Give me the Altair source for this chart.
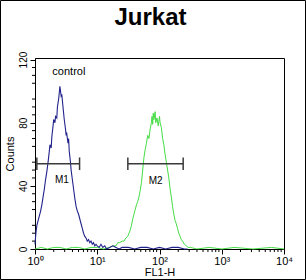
import altair as alt
import pandas as pd

# ---- data (x as log10 of FL1-H, y as counts) ----
blue_log = [0.00, 0.01, 0.02, 0.03, 0.05, 0.07, 0.09, 0.11, 0.13, 0.15, 0.17, 0.19, 0.21, 0.23,
            0.24, 0.26, 0.27, 0.29, 0.30, 0.32, 0.33, 0.35, 0.36, 0.38, 0.39, 0.40, 0.41, 0.42,
            0.43, 0.45, 0.46, 0.47, 0.49, 0.50, 0.51, 0.53, 0.54, 0.55, 0.57, 0.58, 0.60, 0.62,
            0.64, 0.66, 0.68, 0.70, 0.72, 0.74, 0.76, 0.78, 0.80, 0.82, 0.84, 0.86, 0.88, 0.90,
            0.92, 0.94, 0.96, 0.98, 1.00, 1.03, 1.06, 1.09, 1.12, 1.15, 1.20, 1.25, 1.30, 1.35,
            1.40, 1.50, 1.60, 1.70, 1.80, 1.90, 2.00, 2.10, 2.20, 2.30, 2.40, 2.45]
blue_counts = [3, 8, 12, 15, 18, 21, 24, 28, 33, 38, 44, 49, 55, 62,
               66, 64, 71, 78, 82, 80, 84, 83, 90, 95, 99, 103, 100, 97,
               98, 90, 86, 82, 76, 72, 73, 67, 70, 62, 55, 50, 44, 38,
               32, 27, 24, 22, 19, 16, 13, 10, 8, 7, 5, 6, 4, 5,
               3, 4, 2, 3, 2, 1, 3, 1, 2, 0, 1, 2, 1, 0,
               1, 1, 0, 1, 1, 0, 1, 0, 1, 1, 0, 0]

green_log = [0.00, 0.10, 0.20, 0.30, 0.40, 0.50, 0.60, 0.70, 0.80, 0.90, 1.00, 1.10, 1.20, 1.25,
             1.30, 1.33, 1.36, 1.40, 1.43, 1.46, 1.49, 1.51, 1.53, 1.55, 1.57, 1.59, 1.61, 1.63,
             1.65, 1.67, 1.69, 1.71, 1.73, 1.75, 1.77, 1.79, 1.81, 1.83, 1.85, 1.87, 1.88, 1.89,
             1.90, 1.91, 1.93, 1.94, 1.96, 1.98, 2.00, 2.01, 2.03, 2.05, 2.07, 2.09, 2.11, 2.13,
             2.15, 2.17, 2.19, 2.21, 2.23, 2.25, 2.27, 2.29, 2.31, 2.33, 2.35, 2.37, 2.40, 2.43,
             2.46, 2.50, 2.60, 2.80, 3.00, 3.20, 3.50, 3.80, 4.00]
green_counts = [0, 1, 0, 1, 1, 0, 1, 1, 0, 1, 1, 0, 1, 2,
                2, 4, 4, 5, 5, 7, 8, 10, 12, 15, 19, 22, 25, 28,
                30, 33, 37, 42, 50, 58, 63, 67, 72, 70, 76, 80, 84, 79,
                86, 82, 87, 80, 83, 78, 84, 80, 77, 70, 66, 60, 55, 50,
                45, 38, 33, 27, 22, 18, 16, 13, 10, 8, 6, 5, 3, 2,
                1, 1, 0, 1, 0, 1, 0, 1, 0]

x_major = [1, 10, 100, 1000, 10000]
x_major_labels = ["10\u2070", "10\u00b9", "10\u00b2", "10\u00b3", "10\u2074"]
y_major = [0, 20, 40, 60, 80, 100, 120]

chart_title = ["Jurkat"]

marker_names = ["M1", "M2"]
marker_start = [1.07, 31.0]
marker_end = [5.2, 240.0]
marker_level = [54, 54]
marker_label_x = [2.7, 87.0]
marker_label_y = [44, 43]

annot_text = ["control"]
annot_x = [1.9]
annot_y = [112]

BLUE = "#22228c"
GREEN = "#44dd44"
GRAY = "#3a3a3a"
FONT = "Liberation Sans"
W, H = 249, 191

hist = pd.DataFrame(
    [{"x": 10 ** l, "count": c, "series": "control"} for l, c in zip(blue_log, blue_counts)]
    + [{"x": 10 ** l, "count": c, "series": "sample"} for l, c in zip(green_log, green_counts)]
)
markers = pd.DataFrame({"name": marker_names, "x1": marker_start, "x2": marker_end,
                        "y": marker_level, "lx": marker_label_x, "ly": marker_label_y})
caps = pd.DataFrame({
    "x": marker_start + marker_end,
    "ylo": [v - 4 for v in marker_level] * 2,
    "yhi": [v + 4 for v in marker_level] * 2,
})
annots = pd.DataFrame({"text": annot_text, "x": annot_x, "y": annot_y})

x_minor = [k * 10 ** d for d in range(4) for k in range(2, 10)]
y_minor = [v for v in range(0, 121, 5) if v % 20 != 0]

label_expr = " : ".join(
    f"datum.value == {v} ? '{s}'" for v, s in zip(x_major, x_major_labels)
) + " : ''"

xscale = alt.Scale(type="log", domain=[1, 10000], nice=False)
yscale = alt.Scale(domain=[0, 121], nice=False, zero=True)

xaxis = alt.Axis(values=x_major, labelExpr=label_expr, title="FL1-H", grid=False,
                 tickSize=5, tickColor="black", domainColor="black", labelFont=FONT,
                 labelFontSize=11, labelColor="black", labelPadding=1, titleFont=FONT,
                 titleFontSize=11, titleFontWeight="normal", titleColor="black",
                 titlePadding=0, labelFlush=False)
yaxis = alt.Axis(values=y_major, title="Counts", grid=False, tickSize=5, tickColor="black",
                 domainColor="black", labelFont=FONT, labelFontSize=10, labelColor="black",
                 labelAngle=270, labelAlign="center", labelBaseline="bottom", labelPadding=2,
                 titleFont=FONT, titleFontSize=11, titleFontWeight="normal",
                 titleColor="black", titlePadding=3, labelFlush=False)

base_hist = alt.Chart(hist)
green = base_hist.transform_filter(alt.datum.series == "sample").mark_line(
    color=GREEN, strokeWidth=1).encode(
    x=alt.X("x:Q", scale=xscale, axis=xaxis),
    y=alt.Y("count:Q", scale=yscale, axis=yaxis),
)
blue = base_hist.transform_filter(alt.datum.series == "control").mark_line(
    color=BLUE, strokeWidth=1.1).encode(
    x=alt.X("x:Q", scale=xscale),
    y=alt.Y("count:Q", scale=yscale),
)
bars = alt.Chart(markers).mark_rule(color=GRAY, strokeWidth=1.5).encode(
    x=alt.X("x1:Q", scale=xscale), x2="x2:Q", y=alt.Y("y:Q", scale=yscale))
cap_rules = alt.Chart(caps).mark_rule(color=GRAY, strokeWidth=1.5).encode(
    x=alt.X("x:Q", scale=xscale), y=alt.Y("ylo:Q", scale=yscale), y2="yhi:Q")
mlabels = alt.Chart(markers).mark_text(font=FONT, fontSize=10, color="black").encode(
    x=alt.X("lx:Q", scale=xscale), y=alt.Y("ly:Q", scale=yscale), text="name:N")
ctrl = alt.Chart(annots).mark_text(font=FONT, fontSize=11, color="black", align="left").encode(
    x=alt.X("x:Q", scale=xscale), y=alt.Y("y:Q", scale=yscale), text="text:N")

xminor = alt.Chart(pd.DataFrame({"v": x_minor})).mark_rule(color="black", strokeWidth=1).encode(
    x=alt.X("v:Q", scale=xscale), y=alt.value(H), y2=alt.value(H + 3))
yminor = alt.Chart(pd.DataFrame({"v": y_minor})).mark_rule(color="black", strokeWidth=1).encode(
    y=alt.Y("v:Q", scale=yscale), x=alt.value(0), x2=alt.value(-3))
border = alt.Chart(pd.DataFrame({"a": [0]})).mark_rect(
    fill=None, stroke="black", strokeWidth=1).encode(
    x=alt.value(-34.5), x2=alt.value(W + 21.5), y=alt.value(-57.5), y2=alt.value(H + 30.5))
title_mark = alt.Chart(pd.DataFrame({"t": chart_title})).mark_text(
    font=FONT, fontSize=24, fontWeight="bold", color="black", align="center",
    baseline="alphabetic").encode(
    text="t:N", x=alt.value(W / 2 - 9), y=alt.value(-33))

chart = alt.layer(green, blue, bars, cap_rules, mlabels, ctrl, xminor, yminor, border,
                  title_mark).properties(
    width=W, height=H,
    autosize=alt.AutoSizeParams(type="none"),
    padding={"left": 35, "top": 58, "right": 22, "bottom": 31},
    background="white",
).configure_view(stroke="black", strokeWidth=1)

chart.save("out.html", embed_options={"renderer": "svg", "actions": False})
